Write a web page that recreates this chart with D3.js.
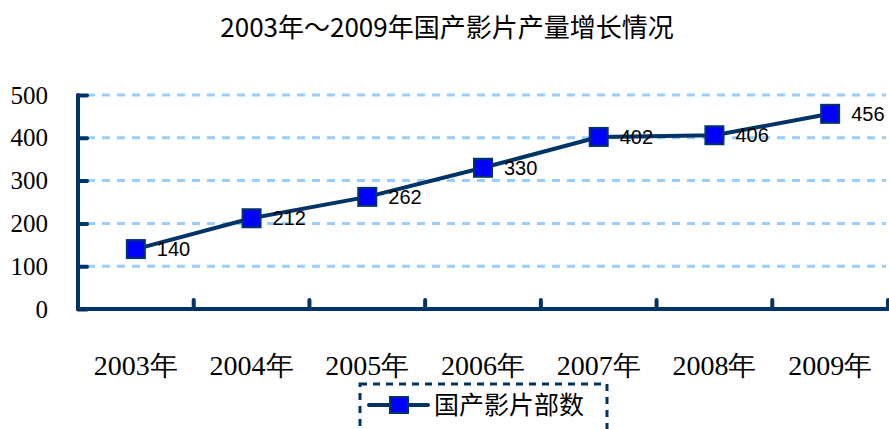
<!DOCTYPE html>
<html><head><meta charset="utf-8">
<script src="https://cdn.jsdelivr.net/npm/d3@7"></script>
<style>body{margin:0;background:#fff}svg{display:block}</style>
</head><body>
<script>
const title = "2003年～2009年国产影片产量增长情况";
const categories = ["2003年","2004年","2005年","2006年","2007年","2008年","2009年"];
const values = [140,212,262,330,402,406,456];
const yTicks = [0,100,200,300,400,500];
const seriesName = "国产影片部数";

const W = 889, H = 429;
const navy = "#003366";
const serif = "'Liberation Serif', 'Times New Roman', serif";
const svg = d3.select("body").append("svg").attr("width", W).attr("height", H);

const x = d3.scaleBand().domain(categories).range([78, 888]);
const y = d3.scaleLinear().domain([0, 500]).range([309, 95]);

// title
svg.append("text").attr("x", 447).attr("y", 37).attr("text-anchor", "middle")
  .style("font-family", "'Noto Sans CJK SC', sans-serif").style("font-size", "26px")
  .attr("fill", "#000").text(title);

// grid
svg.append("g").selectAll("line").data(yTicks.filter(d => d > 0)).join("line")
  .attr("x1", 87).attr("x2", 886).attr("y1", d => y(d)).attr("y2", d => y(d))
  .attr("stroke", "#99CCFF").attr("stroke-width", 3).attr("stroke-dasharray", "8,7");

// y axis
const yAxis = svg.append("g").attr("transform", "translate(78,0)")
  .call(d3.axisLeft(y).tickValues(yTicks).tickSize(-9).tickPadding(30).tickFormat(d3.format("d")));
yAxis.attr("font-family", null).attr("font-size", null);
yAxis.select(".domain").remove();
yAxis.selectAll(".tick line").attr("stroke", navy).attr("stroke-width", 4).attr("stroke-linecap", "round");
yAxis.selectAll(".tick text").style("font-family", serif)
  .style("font-size", "25px").attr("fill", "#000");
svg.append("line").attr("x1", 78).attr("x2", 78).attr("y1", 95).attr("y2", 309)
  .attr("stroke", navy).attr("stroke-width", 4).attr("stroke-linecap", "round");

// x axis
const xAxis = svg.append("g").attr("transform", "translate(0,309)")
  .call(d3.axisBottom(x).tickSize(0).tickPadding(46));
xAxis.attr("font-family", null).attr("font-size", null);
xAxis.select(".domain").remove();
xAxis.selectAll(".tick text").style("font-family", serif)
  .style("font-size", "28px").attr("fill", "#000");
const boundaries = categories.slice(1).map(c => x(c)).concat([x.range()[1]]);
svg.append("g").selectAll("line").data(boundaries).join("line")
  .attr("x1", d => d).attr("x2", d => d).attr("y1", 309).attr("y2", 300)
  .attr("stroke", navy).attr("stroke-width", 4).attr("stroke-linecap", "round");
svg.append("line").attr("x1", 78).attr("x2", 888).attr("y1", 309).attr("y2", 309)
  .attr("stroke", navy).attr("stroke-width", 4);

// line
const cx = d => x(d) + x.bandwidth() / 2;
svg.append("path").datum(values.map((v, i) => [cx(categories[i]), y(v)]))
  .attr("d", d3.line()).attr("fill", "none").attr("stroke", navy).attr("stroke-width", 4)
  .attr("stroke-linejoin", "round");

// markers
svg.append("g").selectAll("rect").data(values).join("rect")
  .attr("x", (d, i) => cx(categories[i]) - 9).attr("y", d => y(d) - 9)
  .attr("width", 18).attr("height", 18).attr("fill", "#0000FF")
  .attr("stroke", navy).attr("stroke-width", 2);

// labels
svg.append("g").selectAll("text").data(values).join("text")
  .attr("x", (d, i) => cx(categories[i]) + 21).attr("y", d => y(d) + 7)
  .style("font-family", "'Liberation Sans', Arial, sans-serif").style("font-size", "20px")
  .attr("fill", "#000").text(d => d);

// legend
const lg = svg.append("g");
lg.append("rect").attr("x", 360).attr("y", 384).attr("width", 247).attr("height", 60)
  .attr("fill", "none").attr("stroke", navy).attr("stroke-width", 3).attr("stroke-dasharray", "7,6");
lg.append("line").attr("x1", 369).attr("x2", 428).attr("y1", 405).attr("y2", 405)
  .attr("stroke", navy).attr("stroke-width", 4).attr("stroke-linecap", "round");
lg.append("rect").attr("x", 390).attr("y", 397).attr("width", 18).attr("height", 16)
  .attr("fill", "#0000FF").attr("stroke", navy).attr("stroke-width", 2);
lg.append("text").attr("x", 434).attr("y", 414)
  .style("font-family", "'Noto Sans CJK SC', sans-serif").style("font-size", "25px")
  .attr("fill", "#000").text(seriesName);
</script>
</body></html>
